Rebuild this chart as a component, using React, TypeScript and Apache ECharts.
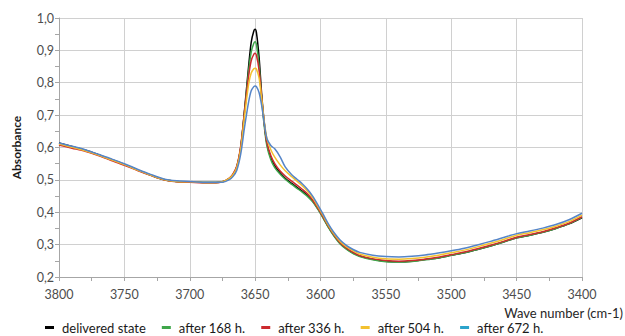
import React, { useEffect, useRef } from "react";
import * as echarts from "echarts";

const waves = [
  3800, 3790, 3780, 3770, 3760, 3750, 3740, 3730, 3720, 3710, 3700, 3690, 3680,
  3675, 3670, 3667, 3664, 3661, 3658, 3655, 3653, 3651, 3650, 3649, 3647, 3645,
  3643, 3641, 3638, 3635, 3631, 3627, 3622, 3618, 3614, 3610, 3606, 3602, 3598,
  3594, 3590, 3585, 3580, 3575, 3570, 3560, 3550, 3540, 3530, 3520, 3510, 3500,
  3490, 3480, 3470, 3460, 3450, 3440, 3430, 3420, 3410, 3400,
];

const delivered = [
  0.614, 0.603, 0.592, 0.578, 0.563, 0.548, 0.531, 0.515, 0.501, 0.495, 0.494, 0.492, 0.492,
  0.494, 0.503, 0.515, 0.54, 0.6, 0.72, 0.85, 0.925, 0.96, 0.965, 0.955, 0.88, 0.765,
  0.675, 0.612, 0.568, 0.543, 0.522, 0.505, 0.489, 0.477, 0.465, 0.452, 0.435, 0.411, 0.384,
  0.355, 0.33, 0.304, 0.287, 0.274, 0.265, 0.255, 0.249, 0.247, 0.249, 0.254, 0.259, 0.267,
  0.275, 0.285, 0.296, 0.308, 0.321, 0.329, 0.338, 0.35, 0.364, 0.383,
];

const after168 = [
  0.612, 0.602, 0.591, 0.577, 0.562, 0.547, 0.531, 0.515, 0.501, 0.495, 0.494, 0.492, 0.492,
  0.494, 0.504, 0.516, 0.54, 0.6, 0.715, 0.835, 0.895, 0.922, 0.927, 0.918, 0.855, 0.75,
  0.665, 0.605, 0.562, 0.538, 0.518, 0.502, 0.486, 0.474, 0.462, 0.449, 0.432, 0.409, 0.382,
  0.353, 0.328, 0.302, 0.285, 0.272, 0.263, 0.253, 0.247, 0.246, 0.248, 0.253, 0.259, 0.267,
  0.275, 0.285, 0.296, 0.308, 0.321, 0.329, 0.338, 0.35, 0.364, 0.384,
];

const after336 = [
  0.608, 0.598, 0.588, 0.575, 0.56, 0.545, 0.529, 0.514, 0.5, 0.494, 0.493, 0.491, 0.491,
  0.494, 0.505, 0.518, 0.543, 0.605, 0.715, 0.82, 0.868, 0.888, 0.891, 0.885, 0.84, 0.755,
  0.675, 0.615, 0.575, 0.55, 0.528, 0.512, 0.496, 0.484, 0.471, 0.457, 0.438, 0.413, 0.386,
  0.357, 0.332, 0.306, 0.289, 0.276, 0.266, 0.256, 0.251, 0.249, 0.251, 0.255, 0.261, 0.269,
  0.277, 0.287, 0.298, 0.31, 0.323, 0.331, 0.34, 0.352, 0.366, 0.386,
];

const after504 = [
  0.611, 0.601, 0.59, 0.577, 0.562, 0.547, 0.53, 0.515, 0.501, 0.495, 0.494, 0.492, 0.492,
  0.494, 0.504, 0.515, 0.538, 0.595, 0.7, 0.795, 0.83, 0.843, 0.845, 0.842, 0.815, 0.75,
  0.68, 0.628, 0.593, 0.57, 0.547, 0.528, 0.51, 0.496, 0.482, 0.466, 0.445, 0.418, 0.39,
  0.36, 0.335, 0.31, 0.293, 0.281, 0.271, 0.261, 0.256, 0.255, 0.257, 0.261, 0.267, 0.275,
  0.283, 0.293, 0.304, 0.316, 0.329, 0.337, 0.346, 0.357, 0.371, 0.391,
];

const after672 = [
  0.614, 0.604, 0.593, 0.579, 0.565, 0.55, 0.533, 0.517, 0.503, 0.497, 0.495, 0.493, 0.493,
  0.493, 0.5, 0.51, 0.53, 0.58, 0.665, 0.74, 0.775, 0.788, 0.79, 0.788, 0.77, 0.73,
  0.675, 0.628, 0.606, 0.596, 0.572, 0.54, 0.516, 0.502, 0.488, 0.471, 0.45, 0.423, 0.394,
  0.364, 0.339, 0.314, 0.297, 0.285, 0.276, 0.267, 0.263, 0.262, 0.264, 0.268, 0.274, 0.281,
  0.289, 0.299, 0.31, 0.322, 0.334, 0.342, 0.351, 0.362, 0.377, 0.397,
];

const seriesNames = ["delivered state", "after 168 h.", "after 336 h.", "after 504 h.", "after 672 h."];
const seriesValues = [delivered, after168, after336, after504, after672];
const lineColors = ["#000000", "#3fa64a", "#cc2a2e", "#f3c12f", "#5585c8"];
const legendColors = ["#000000", "#3fa64a", "#cc2a2e", "#f3c12f", "#2ba3cb"];

const FONT = "Lato, 'Liberation Sans', sans-serif";

export default function App() {
  const ref = useRef<HTMLDivElement>(null);
  useEffect(() => {
    const chart = echarts.init(ref.current as HTMLDivElement, null, { renderer: "svg" });
    chart.setOption({
      animation: false,
      textStyle: { fontFamily: FONT },
      grid: { left: 59, right: 43, top: 18, bottom: 59, containLabel: false, outerBoundsMode: "none" },
      legend: {
        left: 40,
        top: 316,
        icon: "rect",
        itemWidth: 9,
        itemHeight: 3,
        itemGap: 16,
        textStyle: { fontFamily: FONT, fontSize: 13, color: "#1a1a1a", padding: [0, 0, 0, 3] },
        data: seriesNames.map((n, i) => ({ name: n, itemStyle: { color: legendColors[i] } })),
      },
      xAxis: {
        type: "value",
        min: 3400,
        max: 3800,
        interval: 50,
        inverse: true,
        name: "Wave number (cm-1)",
        nameLocation: "start",
        nameGap: 41,
        nameTextStyle: {
          align: "right",
          verticalAlign: "top",
          padding: [29, 0, 0, 0],
          fontSize: 13,
          color: "#262626",
          fontFamily: FONT,
        },
        axisLine: { show: true, lineStyle: { color: "#a6a6a6", width: 1 } },
        axisTick: { show: true, length: 4, lineStyle: { color: "#a6a6a6" } },
        minorTick: { show: true, splitNumber: 2, length: 4, lineStyle: { color: "#a6a6a6" } },
        splitLine: { show: true, lineStyle: { color: "#d0d0d0", width: 1 } },
        axisLabel: {
          color: "#4d4d4d",
          fontSize: 12.5,
          margin: 11,
          fontFamily: FONT,
          formatter: (v: number) => String(v),
        },
      },
      yAxis: {
        type: "value",
        min: 0.2,
        max: 1.0,
        interval: 0.1,
        name: "Absorbance",
        nameLocation: "middle",
        nameGap: 37,
        nameTextStyle: { fontWeight: "bold", fontSize: 12, color: "#1a1a1a", fontFamily: FONT },
        axisLine: { show: true, lineStyle: { color: "#a6a6a6", width: 1 } },
        axisTick: { show: true, length: 4, lineStyle: { color: "#a6a6a6" } },
        minorTick: { show: true, splitNumber: 2, length: 4, lineStyle: { color: "#a6a6a6" } },
        splitLine: { show: true, lineStyle: { color: "#d0d0d0", width: 1 } },
        axisLabel: {
          color: "#4d4d4d",
          fontSize: 12.5,
          margin: 5,
          fontFamily: FONT,
          formatter: (v: number) => v.toFixed(1).replace(".", ","),
        },
      },
      series: seriesNames.map((name, i) => ({
        name,
        type: "line",
        showSymbol: false,
        smooth: 0.3,
        color: lineColors[i],
        lineStyle: { width: 1.5, color: lineColors[i] },
        data: waves.map((w, j) => [w, seriesValues[i][j]]),
      })),
    });
    return () => chart.dispose();
  }, []);
  return (
    <div
      ref={ref}
      style={{ position: "absolute", left: 0, top: 0, width: 625, height: 336 }}
    />
  );
}
